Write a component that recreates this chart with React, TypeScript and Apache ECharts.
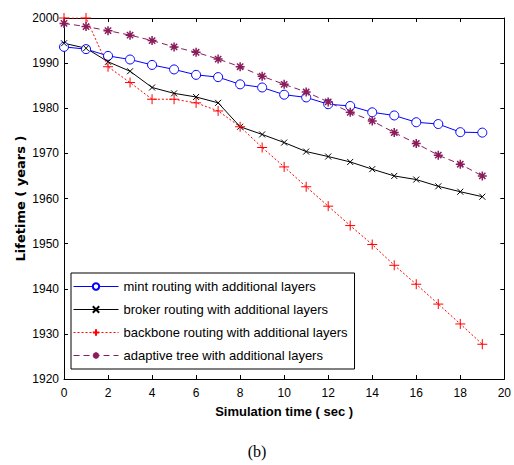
import React, { useEffect, useRef } from "react";
import * as echarts from "echarts";

const times = [0, 1, 2, 3, 4, 5, 6, 7, 8, 9, 10, 11, 12, 13, 14, 15, 16, 17, 18, 19];
const mint = [1993.6, 1993.1, 1991.6, 1990.8, 1989.6, 1988.6, 1987.4, 1986.9, 1985.3, 1984.6, 1983.0, 1982.4, 1980.9, 1980.5, 1979.1, 1978.4, 1976.9, 1976.5, 1974.7, 1974.6];
const broker = [1994.4, 1993.3, 1990.3, 1988.2, 1984.6, 1983.3, 1982.5, 1981.2, 1975.9, 1974.2, 1972.4, 1970.4, 1969.3, 1968.1, 1966.5, 1965.0, 1964.2, 1962.7, 1961.5, 1960.4];
const backbone = [2000.0, 2000.0, 1989.2, 1985.7, 1982.0, 1982.0, 1981.2, 1979.4, 1975.9, 1971.3, 1967.0, 1962.6, 1958.3, 1954.0, 1949.8, 1945.2, 1941.0, 1936.6, 1932.2, 1927.7];
const adaptive = [1998.8, 1998.1, 1997.2, 1996.2, 1995.0, 1993.6, 1992.4, 1990.9, 1989.2, 1987.1, 1985.3, 1983.6, 1981.4, 1979.1, 1977.2, 1974.6, 1972.2, 1969.6, 1967.6, 1965.0];
const seriesNames = [
  "mint routing with additional layers",
  "broker routing with additional layers",
  "backbone routing with additional layers",
  "adaptive tree with additional layers",
];

const FONT = "'Liberation Sans', Arial, Helvetica, sans-serif";

const pairs = (vals: number[]) => times.map((t, i) => [t, vals[i]]);

export default function App() {
  const ref = useRef<HTMLDivElement>(null);
  useEffect(() => {
    if (!ref.current) return;
    const chart = echarts.init(ref.current, undefined, { renderer: "svg" });
    const axisCommon = {
      axisLine: { show: true, onZero: false, lineStyle: { color: "#000", width: 1 } },
      axisTick: { show: true, inside: true, length: 4, lineStyle: { color: "#000" } },
      splitLine: { show: false },
    };
    chart.setOption({
      animation: false,
      backgroundColor: "#fff",
      grid: { left: 64, right: 5, top: 18, bottom: 86, containLabel: false },
      xAxis: [
        {
          type: "value",
          min: 0,
          max: 20,
          interval: 2,
          position: "bottom",
          ...axisCommon,
          axisLabel: { color: "#000", fontFamily: FONT, fontSize: 12, margin: 8 },
          name: "Simulation time ( sec )",
          nameLocation: "middle",
          nameGap: 26,
          nameMoveOverlap: false,
          nameTextStyle: { color: "#000", fontFamily: FONT, fontSize: 13, fontWeight: "bold" },
        },
        {
          type: "value",
          min: 0,
          max: 20,
          interval: 2,
          position: "top",
          ...axisCommon,
          axisLabel: { show: false },
        },
      ],
      yAxis: [
        {
          type: "value",
          min: 1920,
          max: 2000,
          interval: 10,
          position: "left",
          ...axisCommon,
          axisLabel: {
            color: "#000",
            fontFamily: FONT,
            fontSize: 12,
            margin: 5,
            formatter: (v: number) => String(v),
          },
          name: "Lifetime ( years )",
          nameLocation: "middle",
          nameGap: 37,
          nameMoveOverlap: false,
          nameTextStyle: {
            color: "#000",
            fontFamily: "'DejaVu Sans', 'Liberation Sans', sans-serif",
            fontSize: 13,
            fontWeight: "bold",
          },
        },
        {
          type: "value",
          min: 1920,
          max: 2000,
          interval: 10,
          position: "right",
          ...axisCommon,
          axisLabel: { show: false },
        },
      ],
      legend: {
        show: true,
        orient: "vertical",
        left: 71,
        top: 273,
        padding: [7, 7, 7, 2],
        itemWidth: 45,
        itemHeight: 8,
        itemGap: 10,
        borderColor: "#000",
        borderWidth: 1,
        backgroundColor: "#fff",
        lineStyle: { width: 1 },
        textStyle: { color: "#000", fontFamily: FONT, fontSize: 13 },
        data: seriesNames,
      },
      series: [
        {
          name: seriesNames[0],
          type: "line",
          data: pairs(mint),
          symbol: "circle",
          symbolSize: 9,
          lineStyle: { color: "#0000ff", width: 1, type: "solid" },
          itemStyle: { color: "#ffffff", borderColor: "#0000ff", borderWidth: 1 },
          emphasis: { disabled: true },
        },
        {
          name: seriesNames[1],
          type: "line",
          data: pairs(broker),
          symbol: "path://M-3,-3L3,3M-3,3L3,-3",
          symbolSize: 6,
          lineStyle: { color: "#000000", width: 1, type: "solid" },
          itemStyle: { color: "transparent", borderColor: "#000000", borderWidth: 1 },
          emphasis: { disabled: true },
        },
        {
          name: seriesNames[2],
          type: "line",
          data: pairs(backbone),
          symbol: "path://M0,-5L0,5M-5,0L5,0",
          symbolSize: 10,
          lineStyle: { color: "#ff0000", width: 1, type: [2, 2] },
          itemStyle: { color: "transparent", borderColor: "#ff0000", borderWidth: 1 },
          emphasis: { disabled: true },
        },
        {
          name: seriesNames[3],
          type: "line",
          data: pairs(adaptive),
          symbol: "path://M0,-5L0,5M-5,0L5,0M-3.5,-3.5L3.5,3.5M-3.5,3.5L3.5,-3.5",
          symbolSize: 9,
          lineStyle: { color: "#8a1c5c", width: 1, type: [6, 4] },
          itemStyle: { color: "transparent", borderColor: "#8a1c5c", borderWidth: 1.5 },
          emphasis: { disabled: true },
        },
      ],
      graphic: [
        {
          type: "text",
          left: "center",
          top: 443,
          style: {
            text: "(b)",
            font: "16px 'Liberation Serif', 'DejaVu Serif', serif",
            fill: "#000",
          },
        },
      ],
    });
    return () => chart.dispose();
  }, []);
  return (
    <div
      ref={ref}
      style={{ position: "fixed", left: 0, top: 0, width: 514, height: 465 }}
    />
  );
}
